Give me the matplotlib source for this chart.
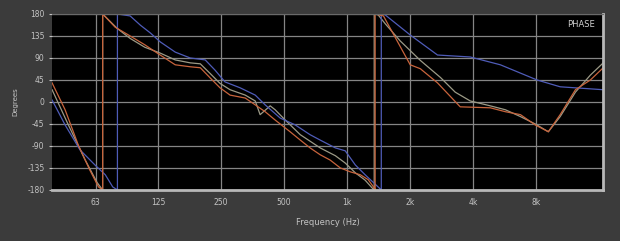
import matplotlib
matplotlib.use("Agg")
import matplotlib.pyplot as plt
import numpy as np

# phase traces (Hz, degrees); -180 -> 180 pairs are the wraps
red_f = [39, 45, 52, 59, 65, 68, 68, 78, 92, 108, 128, 151, 178, 199, 222, 247, 276, 326,
         364, 406, 453, 534, 597, 665, 743, 830, 927, 1035, 1155, 1260, 1346, 1360, 1360,
         1490, 2000, 2235, 2700, 3465, 4825, 5695, 6720, 7900, 9130, 10400, 12300, 14500, 16700]
red_p = [39, -16, -88, -139, -174, -180, 180, 153, 135, 117, 96, 76, 72, 70, 49, 29, 14, 8,
         -6, -20, -37, -61, -78, -94, -108, -119, -135, -143, -149, -159, -176, -180, 180,
         176, 76, 68, 39, -10, -12, -20, -26, -47, -61, -26, 25, 45, 70]

blue_f = [39, 45, 53, 62.5, 70, 76, 80, 80, 92, 103, 115, 128, 151, 178, 210, 234, 261, 308,
          364, 406, 479, 565, 665, 743, 878, 979, 1094, 1218, 1406, 1455, 1455,
          1520, 2000, 2700, 3870, 5390, 8060, 10400, 16700]
blue_p = [4, -47, -98, -129, -149, -174, -180, 180, 176, 157, 141, 123, 102, 90, 86, 65, 41, 29,
          14, -6, -33, -47, -67, -78, -94, -100, -129, -149, -174, -180, 180,
          178, 137, 96, 92, 76, 45, 31, 25]

gray_f = [39, 47, 56, 64, 68, 68, 80, 92, 108, 128, 151, 178, 199, 222, 247, 276, 326, 364,
          384, 429, 453, 506, 597, 743, 878, 979, 1094, 1218, 1316, 1346, 1346,
          1406, 1520, 1790, 2235, 2790, 3280, 3870, 4825, 5695, 6720, 7900, 9130, 10400,
          12300, 14500, 16700]
gray_p = [25, -50, -118, -165, -180, 180, 150, 130, 112, 100, 86, 80, 78, 58, 38, 25, 14, 2,
          -26, -8, -16, -37, -67, -94, -110, -125, -145, -160, -176, -180, 180,
          178, 160, 125, 85, 50, 20, 2, -8, -16, -30, -45, -61, -30, 20, 55, 80]

xticks = [63, 125, 250, 500, 1000, 2000, 4000, 8000]
xlabels = ["63", "125", "250", "500", "1k", "2k", "4k", "8k"]
yticks = [180, 135, 90, 45, 0, -45, -90, -135, -180]

txt = "#c4c4c4"
fig = plt.figure(figsize=(6.2, 2.41), dpi=100)
fig.patch.set_facecolor("#3b3b3b")
ax = fig.add_axes([0.084, 0.212, 0.889, 0.73])
ax.set_facecolor("black")

ax.plot(gray_f, gray_p, color="#9c9a86", lw=0.9)
ax.plot(blue_f, blue_p, color="#4f5cb8", lw=0.9)
ax.plot(red_f, red_p, color="#c8643c", lw=0.9)

ax.set_xscale("log")
ax.set_xlim(39, 16700)
ax.set_ylim(-180, 180)
ax.set_xticks(xticks)
ax.set_xticklabels(xlabels)
ax.xaxis.set_minor_locator(matplotlib.ticker.NullLocator())
ax.set_yticks(yticks)
ax.set_yticklabels([str(t) for t in yticks])
ax.grid(True, color="#858585", lw=0.9)
ax.set_axisbelow(True)

ax.tick_params(axis="both", colors=txt, labelsize=5.5, length=2, width=0.8)
ax.tick_params(axis="x", length=0, pad=6)
for s in ["bottom", "right"]:
    ax.spines[s].set_color("#b8b8b8")
    ax.spines[s].set_linewidth(2)
ax.spines["top"].set_color("#6a6a6a")
ax.spines["left"].set_visible(False)

ax.text(0.985, 0.965, "PHASE", transform=ax.transAxes, ha="right", va="top",
        color="#d0d0d0", fontsize=6)
ax.set_xlabel("Frequency (Hz)", color=txt, fontsize=6, labelpad=8)
ax.set_ylabel("Degrees", color=txt, fontsize=5, labelpad=6)

fig.savefig("out.png", dpi=100, facecolor=fig.get_facecolor())
